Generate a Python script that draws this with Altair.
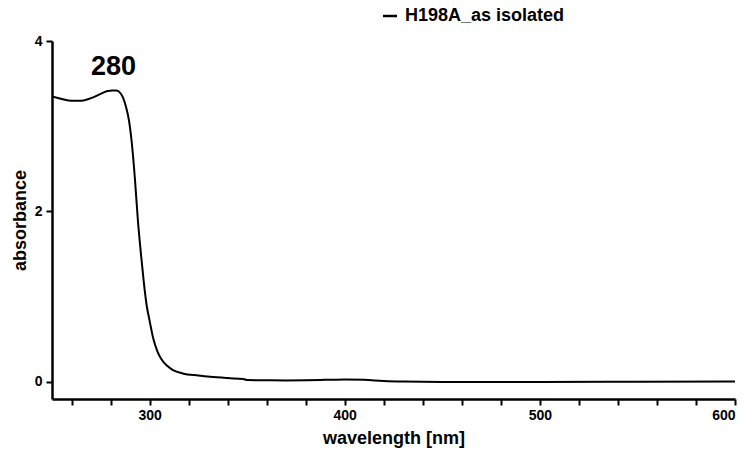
import altair as alt
import pandas as pd

wavelength = [250, 255, 260, 265, 270, 275, 278, 281, 283, 285, 286.5, 288, 289.5, 291, 292.5, 294,
              295.5, 297, 298.5, 300, 302, 304, 306, 309, 312, 317, 325, 331, 340, 348, 350,
              360, 370, 380, 390, 400, 410, 420, 430, 450, 500, 550, 600]
absorbance = [3.35, 3.32, 3.30, 3.30, 3.33, 3.38, 3.41, 3.42, 3.42, 3.39, 3.33, 3.22, 3.06, 2.78, 2.38, 1.90,
              1.52, 1.18, 0.90, 0.72, 0.50, 0.36, 0.27, 0.19, 0.14, 0.10, 0.075, 0.06, 0.045, 0.035, 0.022,
              0.02, 0.018, 0.02, 0.025, 0.03, 0.025, 0.012, 0.005, 0.0, 0.0, 0.002, 0.005]
series_name = "H198A_as isolated"

peak_label = ["280"]
peak_x = [281.5]
peak_y = [3.60]

x_ticks = list(range(260, 601, 20))
y_ticks = [0, 2, 4]

df = pd.DataFrame({"wavelength": wavelength, "absorbance": absorbance, "series": series_name})
lab = pd.DataFrame({"label": peak_label, "x": peak_x, "y": peak_y})

FONT = "Liberation Sans"

x_scale = alt.Scale(domain=[250, 600], nice=False, zero=False)
y_scale = alt.Scale(domain=[-0.2, 4], nice=False, zero=False)

line = alt.Chart(df).mark_line(strokeWidth=2, interpolate="monotone", clip=True).encode(
    x=alt.X("wavelength:Q", scale=x_scale,
            axis=alt.Axis(title="wavelength [nm]", values=x_ticks,
                          labelExpr="datum.value % 100 == 0 ? datum.value : ''")),
    y=alt.Y("absorbance:Q", scale=y_scale,
            axis=alt.Axis(title="absorbance", values=y_ticks, format="d")),
    color=alt.Color("series:N", scale=alt.Scale(range=["black"]),
                    legend=alt.Legend(title=None, orient="none", legendX=329, legendY=-34,
                                      symbolType="stroke", symbolSize=196, symbolStrokeWidth=2.5,
                                      symbolStrokeColor="black",
                                      labelFontSize=18, labelFont=FONT, labelFontWeight="bold",
                                      labelColor="black", labelOffset=6, padding=0)),
)

text = alt.Chart(lab).mark_text(fontSize=27, fontWeight="bold", font=FONT, color="black",
                                baseline="alphabetic", align="center").encode(
    x=alt.X("x:Q", scale=x_scale),
    y=alt.Y("y:Q", scale=y_scale),
    text="label:N",
)

chart = (line + text).properties(
    width=683, height=358,
    autosize=alt.AutoSizeParams(type="none"),
    padding={"left": 52, "top": 41, "right": 15, "bottom": 52},
).configure_view(stroke=None).configure_axis(
    grid=False, domainColor="black", domainWidth=2.5, tickColor="black", tickWidth=2,
    tickSize=6, labelFont=FONT, labelFontSize=14, labelFontWeight="bold", labelColor="black",
    titleFont=FONT, titleFontSize=18, titleFontWeight="bold", titleColor="black",
    labelPadding=3,
).configure_axisX(titlePadding=7).configure_axisY(titlePadding=5, labelPadding=4)

chart.save("out.html", embed_options={"renderer": "svg", "actions": False})
